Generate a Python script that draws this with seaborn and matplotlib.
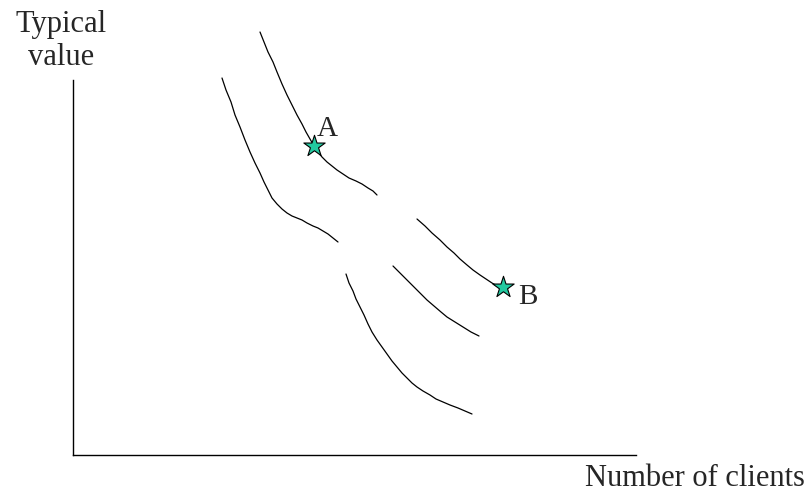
import numpy as np
import pandas as pd
import matplotlib
matplotlib.use("Agg")
import matplotlib.pyplot as plt
import seaborn as sns

# curve points (x = clients, y = typical value, origin at the axis corner)
c1_x = [187, 191, 195, 200, 204, 209, 214, 219, 224, 229, 233, 237, 241, 245, 249, 254, 259, 264, 270, 276, 283, 289, 295, 300, 304]
c1_y = [423, 413, 403, 393, 383, 371, 360, 350, 340, 331, 323, 316, 309, 303, 298, 293, 289, 285, 281, 277, 274, 271, 267, 264, 260]
c2_x = [149, 153, 158, 162, 167, 172, 177, 182, 187, 191, 195, 199, 204, 209, 214, 219, 224, 229, 234, 240, 245, 250, 255, 260, 265]
c2_y = [377, 365, 353, 340, 328, 315, 303, 292, 282, 273, 265, 257, 251, 246, 242, 239, 237, 235, 232, 229, 227, 224, 221, 217, 213]
c3_x = [344, 352, 359, 367, 374, 381, 387, 394, 400, 407, 413, 419, 424]
c3_y = [236, 229, 222, 215, 208, 202, 196, 190, 185, 180, 176, 172, 169]
c4_x = [320, 327, 334, 341, 347, 354, 361, 368, 374, 382, 390, 398, 406]
c4_y = [189, 182, 175, 168, 162, 155, 149, 143, 138, 133, 128, 123, 119]
c5_x = [273, 276, 280, 283, 287, 291, 295, 299, 304, 309, 314, 319, 324, 329, 334, 339, 344, 350, 357, 363, 370, 377, 385, 392, 399]
c5_y = [181, 172, 164, 156, 148, 140, 131, 123, 115, 108, 101, 94, 88, 82, 77, 72, 68, 64, 60, 56, 53, 50, 47, 44, 41]

point_names = ["A", "B"]
point_x = [241, 430]
point_y = [309, 168]

rows = []
for i, (xs, ys) in enumerate([(c1_x, c1_y), (c2_x, c2_y), (c3_x, c3_y), (c4_x, c4_y), (c5_x, c5_y)]):
    for x, y in zip(xs, ys):
        rows.append({"curve": i, "x": x, "y": y})
df = pd.DataFrame(rows)
pts = pd.DataFrame({"name": point_names, "x": point_x, "y": point_y})

sns.set_style("white")
plt.rcParams["font.family"] = ["Liberation Serif", "DejaVu Serif"]

W, H = 811, 496
fig = plt.figure(figsize=(W / 100, H / 100), dpi=100)
ax = fig.add_axes([73 / W, (H - 455) / H, (636 - 73) / W, (455 - 80) / H])

for c, g in df.groupby("curve"):
    sns.lineplot(data=g, x="x", y="y", sort=False, color="black", lw=0.9,
                 ax=ax, clip_on=False)

sns.scatterplot(data=pts, x="x", y="y", marker="*", s=260, color="#22C9A0",
                edgecolor="black", linewidth=0.8, ax=ax, zorder=5, clip_on=False)
ax.text(point_x[0] + 13, point_y[0] + 17, point_names[0], fontsize=21, ha="center", va="center")
ax.text(point_x[1] + 25, point_y[1] - 10, point_names[1], fontsize=21, ha="center", va="center")

ax.set_xlim(0, 563)
ax.set_ylim(0, 375)
ax.set_xticks([])
ax.set_yticks([])
ax.set_xlabel("")
ax.set_ylabel("")
for s in ["top", "right"]:
    ax.spines[s].set_visible(False)
for s in ["left", "bottom"]:
    ax.spines[s].set_color("black")
    ax.spines[s].set_linewidth(1.0)

fig.text(61 / W, 1 - 41 / H, "Typical\nvalue", fontsize=22, ha="center", va="center",
         multialignment="center", linespacing=1.2)
fig.text(805 / W, 1 - 479 / H, "Number of clients", fontsize=22, ha="right", va="center")

fig.savefig("out.png", dpi=100, facecolor="white")
